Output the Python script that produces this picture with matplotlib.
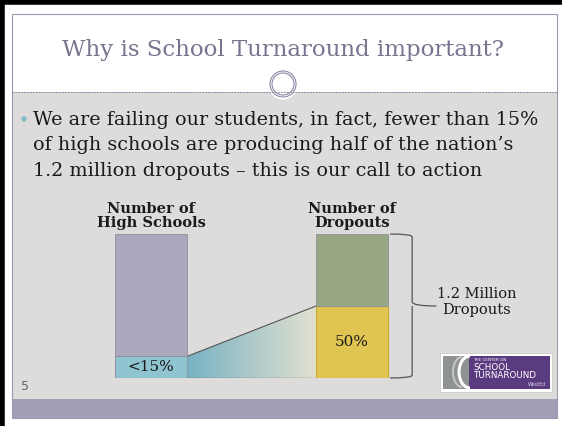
import matplotlib.pyplot as plt
import matplotlib.patches as mpatches
from matplotlib.path import Path
import numpy as np

# chart data
categories = ['Number of\nHigh Schools', 'Number of\nDropouts']
total = [100, 100]
share = [15, 50]
share_labels = ['<15%', '50%']
brace_label = '1.2 Million\nDropouts'

title = 'Why is School Turnaround important?'
bullet = ['We are failing our students, in fact, fewer than 15%',
          'of high schools are producing half of the nation\u2019s',
          '1.2 million dropouts \u2013 this is our call to action']

top_colors = ['#aba7be', '#97a683']
share_colors = ['#90c4d0', '#e0c553']
share_edges = ['#8a9aa8', '#c9ac2c']
serif = 'DejaVu Serif'

fig = plt.figure(figsize=(5.63, 4.26), dpi=100)
fig.patch.set_facecolor('white')

# slide background, pixel coordinates
bg = fig.add_axes([0, 0, 1, 1])
bg.set_xlim(0, 563)
bg.set_ylim(426, 0)
bg.axis('off')

bg.add_patch(mpatches.Rectangle((12, 92), 545, 307, facecolor='#dddcda', edgecolor='none'))
bg.add_patch(mpatches.Rectangle((12, 399), 545, 19, facecolor='#a19eb6', edgecolor='none'))
bg.add_patch(mpatches.Rectangle((12, 14), 545, 404, facecolor='none', edgecolor='#9c99b3', lw=0.8))
# black frame
bg.plot([0, 562], [2, 2], color='black', lw=4, solid_capstyle='butt')
bg.plot([2, 2], [0, 426], color='black', lw=4, solid_capstyle='butt')

bg.plot([12, 557], [92, 92], color='#8c89a6', lw=0.7, ls=(0, (2, 1)))
bg.add_patch(mpatches.Circle((283, 84), 15.5, facecolor='white', edgecolor='none'))
bg.add_patch(mpatches.Circle((283, 84), 13, facecolor='white', edgecolor='#8c89a6', lw=0.8))
bg.add_patch(mpatches.Circle((283, 84), 11, facecolor='white', edgecolor='#8c89a6', lw=0.8))

bg.text(283, 50, title, ha='center', va='center', fontsize=16.5,
        family=serif, color='#77748f')

bg.add_patch(mpatches.Circle((24, 119), 2.6, facecolor='#7fb6c5', edgecolor='none'))
for i, line in enumerate(bullet):
    bg.text(33, 120 + i * 25.5, line, ha='left', va='center', fontsize=13.8,
            family=serif, color='#1a1a1a')

bg.text(25, 387, '5', ha='center', va='center', fontsize=9, color='#666666')

# logo
bg.add_patch(mpatches.Rectangle((440, 353), 112, 39, facecolor='white', edgecolor='#cccccc', lw=0.6))
bg.add_patch(mpatches.Rectangle((443, 356), 26, 33, facecolor='#8e9290', edgecolor='none'))
bg.add_patch(mpatches.Rectangle((469, 356), 81, 33, facecolor='#5b3b80', edgecolor='none'))
bg.add_patch(mpatches.Arc((470, 372), 22, 32, theta1=90, theta2=270, color='white', lw=2.2))
bg.add_patch(mpatches.Arc((462, 372), 18, 30, theta1=90, theta2=270, color='#c4c6c4', lw=1.5))
bg.text(473, 360, 'THE CENTER ON', fontsize=3, color='white', va='center')
bg.text(473, 367, 'SCHOOL', fontsize=6.3, color='white', va='center')
bg.text(473, 375, 'TURNAROUND', fontsize=6.3, color='white', va='center')
bg.text(546, 384, 'WestEd', fontsize=3.5, color='#d8cfe6', va='center', ha='right')

# chart axes
px_left, px_right, px_top, px_bottom = 100, 420, 234, 378
ax = fig.add_axes([px_left / 563, (426 - px_bottom) / 426,
                   (px_right - px_left) / 563, (px_bottom - px_top) / 426])
ax.set_facecolor('none')
ax.axis('off')
x = np.arange(len(categories))
w = 0.358
ax.set_xlim(-0.2537, 1.338)
ax.set_ylim(0, 100)

rest = [t - s for t, s in zip(total, share)]
ax.bar(x, share, width=w, color=share_colors, edgecolor=share_edges, lw=0.8, zorder=3)
ax.bar(x, rest, bottom=share, width=w, color=top_colors, edgecolor='#8f8f98', lw=0.6, zorder=3)

for xi, s, lab in zip(x, share, share_labels):
    ax.text(xi, s / 2, lab, ha='center', va='center', fontsize=11, family=serif,
            color='#1a1a1a', zorder=4)
for xi, t, cat in zip(x, total, categories):
    ax.text(xi, t + 3, cat, ha='center', va='bottom', fontsize=10.5, family=serif,
            fontweight='bold', color='#1a1a1a', linespacing=1.0, clip_on=False)

# gradient wedge between the bars
x0, x1 = x[0] + w / 2, x[1] - w / 2
verts = [(x0, 0), (x0, share[0]), (x1, share[1]), (x1, 0), (x0, 0)]
poly = mpatches.Polygon(verts, closed=True, facecolor='none', edgecolor='none')
ax.add_patch(poly)
c0 = np.array([0.47, 0.70, 0.77])
c1 = np.array([0.89, 0.88, 0.81])
t = np.linspace(0, 1, 256)
grad = (c0[None, :] * (1 - t[:, None]) + c1[None, :] * t[:, None])[None, :, :]
img = ax.imshow(grad, extent=(x0, x1, 0, share[1]), aspect='auto', zorder=2)
img.set_clip_path(poly)
ax.plot([x0, x1], [share[0], share[1]], color='#555555', lw=0.8, zorder=2.5)
ax.plot([x0, x1 + 0.06], [0, 0], color='#555555', lw=0.9, zorder=2.5)

# brace over the dropouts bar
bx = x[1] + w / 2
mid = total[1] / 2
brace = Path([(bx + 0.01, total[1]), (bx + 0.12, total[1]), (bx + 0.12, total[1] - 2), (bx + 0.12, mid + 3),
              (bx + 0.12, mid), (bx + 0.24, mid),
              (bx + 0.12, mid), (bx + 0.12, mid - 3), (bx + 0.12, 2), (bx + 0.12, 0), (bx + 0.01, 0)],
             [Path.MOVETO, Path.CURVE3, Path.CURVE3, Path.LINETO, Path.CURVE3, Path.CURVE3,
              Path.MOVETO, Path.LINETO, Path.LINETO, Path.CURVE3, Path.CURVE3])
ax.add_patch(mpatches.PathPatch(brace, facecolor='none', edgecolor='#555555', lw=0.9, clip_on=False))
ax.text(bx + 0.44, mid + 3, brace_label, ha='center', va='center', fontsize=10.5,
        family=serif, color='#1a1a1a', clip_on=False)

fig.savefig('out.png', dpi=100)
